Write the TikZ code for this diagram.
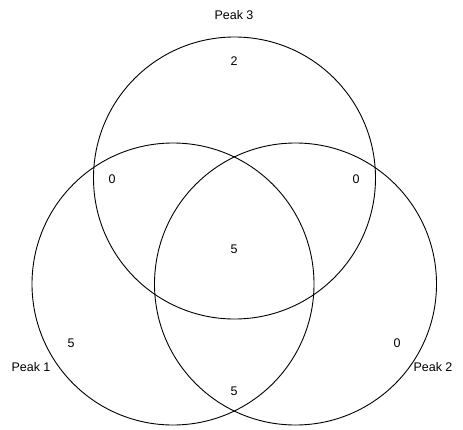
\documentclass[tikz,border=0pt]{standalone}
\usepackage{fontspec}
\setmainfont{Liberation Sans}
\begin{document}
\begin{tikzpicture}[x=1pt,y=-1pt,
  setcircle/.style={draw=black,line width=0.9pt,circle,minimum size=282pt,inner sep=0pt},
  lbl/.style={inner sep=0pt,font=\fontsize{12.5}{14}\selectfont}]
\useasboundingbox[fill=white] (0,0) rectangle (463,429);
\node[setcircle] (c3) at (234.5,178) {};
\node[setcircle] (c1) at (173,284) {};
\node[setcircle] (c2) at (295.5,284) {};
\node[lbl] (p3) at (234,15) {Peak 3};
\node[lbl] (p1) at (31,367) {Peak 1};
\node[lbl] (p2) at (433,367) {Peak 2};
\node[lbl] (n3) at (234,61) {2};
\node[lbl] (n13) at (112,179) {0};
\node[lbl] (n23) at (356,179) {0};
\node[lbl] (n123) at (234,249) {5};
\node[lbl] (n1) at (71,343) {5};
\node[lbl] (n2) at (397,343) {0};
\node[lbl] (n12) at (234,391) {5};
\end{tikzpicture}
\end{document}
